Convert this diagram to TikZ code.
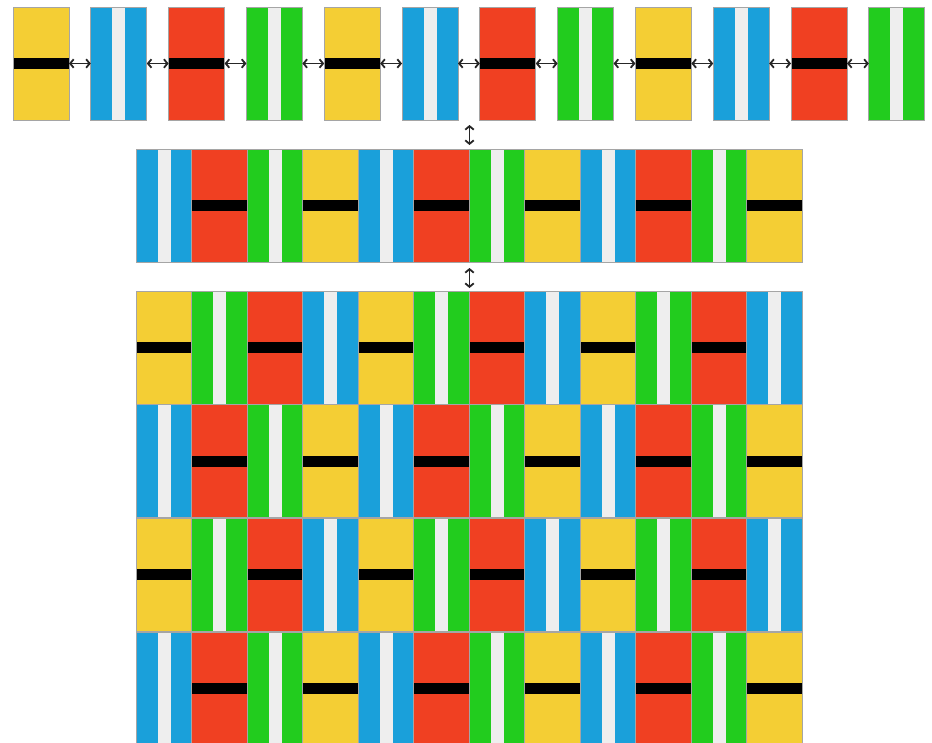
\documentclass[tikz,border=0pt]{standalone}
\usetikzlibrary{arrows.meta,calc}

\definecolor{tyellow}{RGB}{244,206,52}
\definecolor{tblue}{RGB}{26,160,218}
\definecolor{tred}{RGB}{240,64,34}
\definecolor{tgreen}{RGB}{34,204,30}
\definecolor{stripe}{RGB}{238,238,238}
\definecolor{tileedge}{RGB}{165,165,165}

\tikzset{
  tile/.style = {draw=tileedge, line width=0.7pt, minimum width=56pt, minimum height=113pt,
                 inner sep=0pt, outer sep=0pt, anchor=north west},
  barred/.style = {tile, fill=#1, path picture={
      \fill[black] ([yshift=5.5pt]path picture bounding box.west)
                   rectangle ([yshift=-5.5pt]path picture bounding box.east);}},
  striped/.style = {tile, fill=#1, path picture={
      \fill[stripe] ([xshift=-6.5pt]path picture bounding box.north)
                    rectangle ([xshift=6.5pt]path picture bounding box.south);}},
  link/.style = {{Straight Barb[length=3.5pt,width=8.5pt]}-{Straight Barb[length=3.5pt,width=8.5pt]},
                 line width=1.8pt, black!85}
}

\begin{document}
\begin{tikzpicture}[x=1pt, y=-1pt]
  \useasboundingbox (0,0) rectangle (932,742);

  % top row
  \foreach \k/\c [count=\i] in {barred/tyellow, striped/tblue, barred/tred, striped/tgreen,
                                barred/tyellow, striped/tblue, barred/tred, striped/tgreen,
                                barred/tyellow, striped/tblue, barred/tred, striped/tgreen}
    \node[\k=\c] (t\i) at ({13+(\i-1)*77.8},7) {};
  \foreach \i [evaluate=\i as \j using int(\i+1)] in {1,...,11}
    \draw[link] (t\i.east) -- (t\j.west);

  % middle row
  \begin{scope}[every node/.append style={minimum width=55.5pt}]
  \foreach \k/\c [count=\i] in {striped/tblue, barred/tred, striped/tgreen, barred/tyellow,
                                striped/tblue, barred/tred, striped/tgreen, barred/tyellow,
                                striped/tblue, barred/tred, striped/tgreen, barred/tyellow}
    \node[\k=\c] (m\i) at ({136+(\i-1)*55.5},149) {};

  % grid
  \foreach \r in {1,3}
    \foreach \k/\c [count=\i] in {barred/tyellow, striped/tgreen, barred/tred, striped/tblue,
                                  barred/tyellow, striped/tgreen, barred/tred, striped/tblue,
                                  barred/tyellow, striped/tgreen, barred/tred, striped/tblue}
      \node[\k=\c] (g\r-\i) at ({136+(\i-1)*55.5},{291+(\r-1)*113.7}) {};
  \foreach \r in {2,4}
    \foreach \k/\c [count=\i] in {striped/tblue, barred/tred, striped/tgreen, barred/tyellow,
                                  striped/tblue, barred/tred, striped/tgreen, barred/tyellow,
                                  striped/tblue, barred/tred, striped/tgreen, barred/tyellow}
      \node[\k=\c] (g\r-\i) at ({136+(\i-1)*55.5},{291+(\r-1)*113.7}) {};
  \end{scope}

  % links between rows
  \coordinate (up1) at ($(m6.north east)+(0,-4)$);
  \coordinate (up2) at ($(m6.north east)+(0,-24)$);
  \coordinate (dn1) at ($(g1-6.north east)+(0,-3)$);
  \coordinate (dn2) at ($(g1-6.north east)+(0,-23)$);
  \draw[link] (up2) -- (up1);
  \draw[link] (dn2) -- (dn1);
\end{tikzpicture}
\end{document}
